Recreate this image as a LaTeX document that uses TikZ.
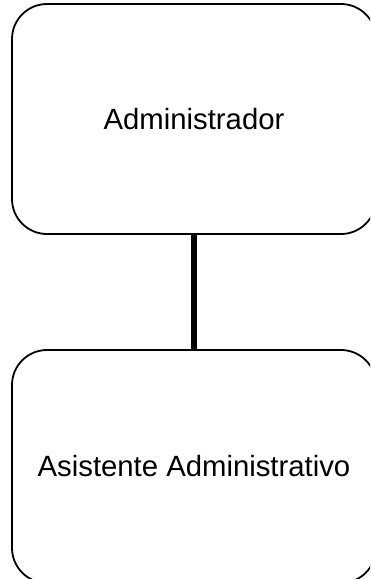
\documentclass[tikz,border=0pt]{standalone}
\usepackage{fontspec}
\setmainfont{Liberation Sans}
\usepackage{tikz}

\tikzset{
    puesto/.style={draw, line width=1.8pt, rounded corners=35pt, minimum width=364pt,
        font=\fontsize{29.3}{35}\selectfont, inner sep=0pt}
}

\begin{document}
\begin{tikzpicture}[x=1pt, y=-1pt]
    \clip (0,0) rectangle (370,579);

    \node[puesto, minimum height=230pt] (admin) at (194,119) {Administrador};
    \node[puesto, minimum height=233pt] (asist) at (194,466.5) {Asistente Administrativo};

    \draw[line width=5.5pt] (admin.south) -- (asist.north);
\end{tikzpicture}
\end{document}
